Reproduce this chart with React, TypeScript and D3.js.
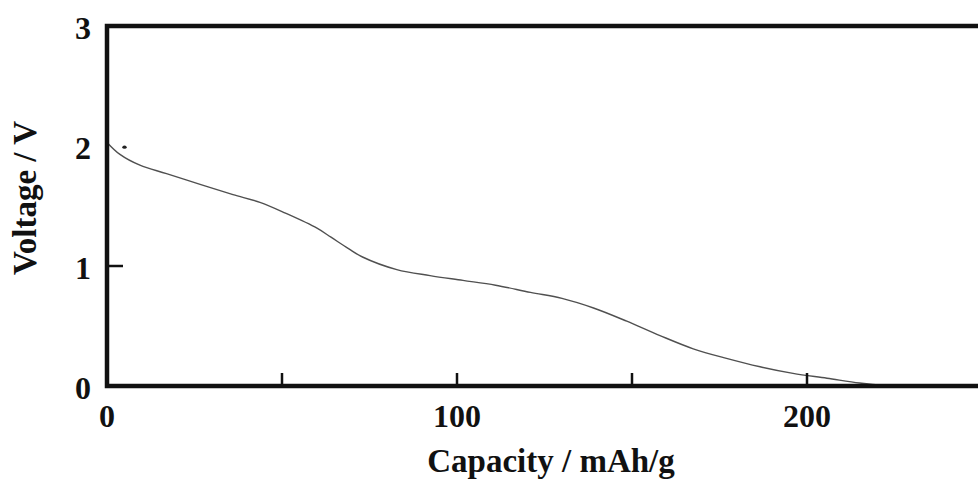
import * as d3 from "d3";

// discharge curve
const capacity = [0, 3.7, 9.4, 17, 26.6, 36, 43.7, 51, 60, 64, 69, 73, 82.8, 92.3, 101.7, 111, 121, 130, 139, 148.5, 158, 167.5, 177, 186.6, 196, 205.7, 215, 222, 228];
const voltage = [2.03, 1.93, 1.84, 1.77, 1.68, 1.595, 1.53, 1.44, 1.315, 1.24, 1.145, 1.075, 0.97, 0.92, 0.88, 0.84, 0.78, 0.73, 0.65, 0.54, 0.42, 0.31, 0.23, 0.16, 0.105, 0.065, 0.025, 0.005, 0];

const marker = { capacity: 5, voltage: 1.99 };

const xTicks = [0, 50, 100, 150, 200, 250];
const xTickLabels = ["0", "", "100", "", "200", ""];
const yTickLabels = [
    { v: 0, label: "0" },
    { v: 1, label: "1" },
    { v: 2, label: "2" },
    { v: 3, label: "3" },
];
const yTickMarks = [1];

const W = 978;
const H = 481;
const font = "'Liberation Serif', 'Times New Roman', serif";

export default function App() {
    const x = d3.scaleLinear().domain([0, 250]).range([107, 982]);
    const y = d3.scaleLinear().domain([0, 3]).range([386, 26]);

    const points = capacity.map((c, i) => [c, voltage[i]] as [number, number]);
    const line = d3
        .line<[number, number]>()
        .x((d) => x(d[0]))
        .y((d) => y(d[1]))
        .curve(d3.curveCatmullRom.alpha(0.5));

    const [x0, x1] = x.range();
    const [y0, y1] = y.range();

    return (
        <svg
            width={W}
            height={H}
            style={{ position: "absolute", left: 0, top: 0, background: "#fff" }}
            fontFamily={font}
            fontWeight="bold"
        >
            {/* curve */}
            <path d={line(points) ?? ""} fill="none" stroke="#505050" strokeWidth={1.4} />
            <ellipse cx={x(marker.capacity)} cy={y(marker.voltage)} rx={2.2} ry={1.6} fill="#222" />

            {/* inner ticks */}
            {xTicks.slice(1, -1).map((t) => (
                <line key={"xt" + t} x1={x(t)} x2={x(t)} y1={y0} y2={y0 - 13} stroke="#111" strokeWidth={2.5} />
            ))}
            {yTickMarks.map((t) => (
                <line key={"yt" + t} x1={x0} x2={x0 + 16} y1={y(t)} y2={y(t)} stroke="#111" strokeWidth={2.5} />
            ))}

            {/* frame */}
            <rect x={x0} y={y1} width={x1 - x0} height={y0 - y1} fill="none" stroke="#111" strokeWidth={4.5} />

            {/* tick labels */}
            {xTicks.map((t, i) =>
                xTickLabels[i] ? (
                    <text key={"xl" + t} x={x(t)} y={416} textAnchor="middle" dominantBaseline="central" fontSize={32} fill="#111">
                        {xTickLabels[i]}
                    </text>
                ) : null
            )}
            {yTickLabels.map((d) => (
                <text key={"yl" + d.v} x={91} y={y(d.v) + 2} textAnchor="end" dominantBaseline="central" fontSize={32} fill="#111">
                    {d.label}
                </text>
            ))}

            {/* axis titles */}
            <text x={551} y={472} textAnchor="middle" fontSize={33} fill="#111">
                Capacity / mAh/g
            </text>
            <text
                transform="translate(25,198) rotate(-90)"
                textAnchor="middle"
                dominantBaseline="central"
                fontSize={33}
                fill="#111"
            >
                Voltage / V
            </text>
        </svg>
    );
}
